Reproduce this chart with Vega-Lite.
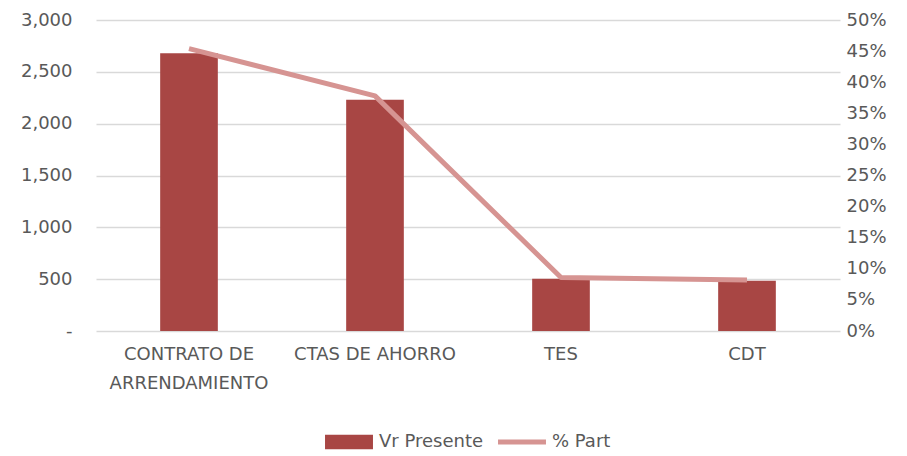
{
  "$schema": "https://vega.github.io/schema/vega-lite/v6.json",
  "width": 744,
  "height": 311,
  "autosize": {"type": "none"},
  "padding": {"left": 96, "top": 20, "right": 67, "bottom": 125},
  "background": "white",
  "config": {
    "view": {"stroke": null},
    "font": "DejaVu Sans, sans-serif",
    "axis": {"labelFont": "DejaVu Sans, sans-serif", "labelFontSize": 18, "labelColor": "#595959", "ticks": false, "domain": false, "title": null},
    "legend": {"labelFont": "DejaVu Sans, sans-serif", "labelFontSize": 18, "labelColor": "#595959", "layout": {"bottom": {"anchor": "middle"}}}
  },
  "data": {"values": [
    {"cat": "CONTRATO DE ARRENDAMIENTO", "vr": 2680, "part": 0.454},
    {"cat": "CTAS DE AHORRO", "vr": 2230, "part": 0.378},
    {"cat": "TES", "vr": 505, "part": 0.086},
    {"cat": "CDT", "vr": 485, "part": 0.082}
  ]},
  "encoding": {
    "x": {"field": "cat", "type": "nominal", "sort": null,
      "scale": {"paddingInner": 0, "paddingOuter": 0},
      "axis": {"labelAngle": 0, "labelPadding": 14, "labelLineHeight": 29, "grid": false,
        "labelExpr": "datum.label == 'CONTRATO DE ARRENDAMIENTO' ? ['CONTRATO DE', 'ARRENDAMIENTO'] : datum.label"}}
  },
  "layer": [
    {
      "mark": {"type": "bar", "width": {"band": 0.31}},
      "encoding": {
        "y": {"field": "vr", "type": "quantitative",
          "scale": {"domain": [0, 3000]},
          "axis": {"orient": "left", "values": [0, 500, 1000, 1500, 2000, 2500, 3000], "grid": true, "gridColor": "#D9D9D9", "gridWidth": 1.3, "labelPadding": 24,
            "labelExpr": "datum.value == 0 ? '-' : format(datum.value, ',')"}},
        "color": {"datum": "Vr Presente", "type": "nominal",
          "scale": {"domain": ["Vr Presente", "% Part"], "range": ["#A84644", "#D69492"]},
          "legend": {"orient": "bottom", "direction": "horizontal", "title": null, "offset": 26, "columnPadding": 14, "labelOffset": 6,
            "symbolSize": 2300,
            "encode": {"symbols": {"update": {
              "shape": {"signal": "datum.value == 'Vr Presente' ? 'M-1,-0.3H1V0.3H-1Z' : 'M-1,-0.1H1V0.1H-1Z'"},
              "fill": {"signal": "datum.value == 'Vr Presente' ? '#A84644' : '#D69492'"},
              "stroke": {"value": "transparent"},
              "strokeWidth": {"value": 0}}}}}}
      }
    },
    {
      "mark": {"type": "line", "strokeWidth": 5, "strokeJoin": "round"},
      "encoding": {
        "y": {"field": "part", "type": "quantitative",
          "scale": {"domain": [0, 0.5]},
          "axis": {"orient": "right", "values": [0, 0.05, 0.1, 0.15, 0.2, 0.25, 0.3, 0.35, 0.4, 0.45, 0.5], "format": ".0%", "grid": false, "labelPadding": 6}},
        "color": {"datum": "% Part", "type": "nominal"}
      }
    }
  ],
  "resolve": {"scale": {"y": "independent"}}
}
